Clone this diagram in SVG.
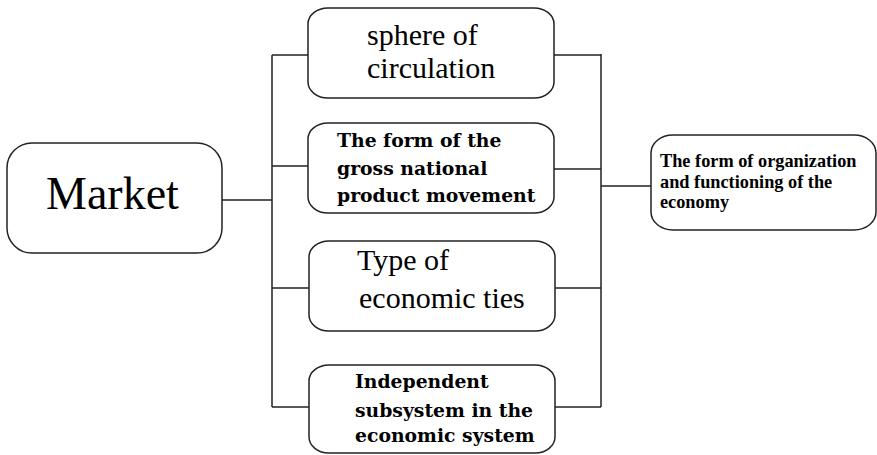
<svg xmlns="http://www.w3.org/2000/svg" width="877" height="455" viewBox="0 0 877 455">
<style>
.box{fill:#fff;stroke:#222;stroke-width:1.5}
.ln{stroke:#222;stroke-width:1.5;fill:none}
.t{font-family:"Liberation Serif","Times New Roman",serif;fill:#000}
.b{font-family:"DejaVu Serif",serif;font-weight:bold;fill:#000;font-size:18.8px}
.r{font-family:"Liberation Serif","Times New Roman",serif;font-weight:bold;fill:#000;font-size:18.3px}
</style>
<rect width="877" height="455" fill="#fff"/>
<g id="connectors">
<path class="ln" d="M222 200H272M272 55V407M272 55H308M272 166H308M272 288H309M272 407H309"/>
<path class="ln" d="M554 55H601M554 169H601M555 288H601M555 407H601M601 54V407M601 186H651"/>
</g>
<g id="market">
<rect class="box" x="7" y="143" width="215" height="110" rx="25" ry="25"/>
<text class="t" x="46" y="209" font-size="46">Market</text>
</g>
<g id="sphere">
<rect class="box" x="308" y="8" width="246" height="90" rx="20" ry="16"/>
<text class="t" x="367" y="45" font-size="30">sphere of</text>
<text class="t" x="367" y="78" font-size="30">circulation</text>
</g>
<g id="gnp">
<rect class="box" x="308" y="123" width="246" height="90" rx="20" ry="16"/>
<text class="b" x="337" y="147">The form of the</text>
<text class="b" x="337" y="175">gross national</text>
<text class="b" x="337" y="202">product movement</text>
</g>
<g id="ties">
<rect class="box" x="309" y="241" width="246" height="90" rx="20" ry="16"/>
<text class="t" x="357" y="270" font-size="30">Type of</text>
<text class="t" x="359" y="308" font-size="30">economic ties</text>
</g>
<g id="subsystem">
<rect class="box" x="309" y="365" width="246" height="88" rx="20" ry="16"/>
<text class="b" x="355" y="388">Independent</text>
<text class="b" x="355" y="417">subsystem in the</text>
<text class="b" x="355" y="442">economic system</text>
</g>
<g id="organization">
<rect class="box" x="651" y="135" width="225" height="95" rx="22" ry="18"/>
<text class="r" x="660" y="167">The form of organization</text>
<text class="r" x="660" y="188">and functioning of the</text>
<text class="r" x="660" y="208">economy</text>
</g>
</svg>
